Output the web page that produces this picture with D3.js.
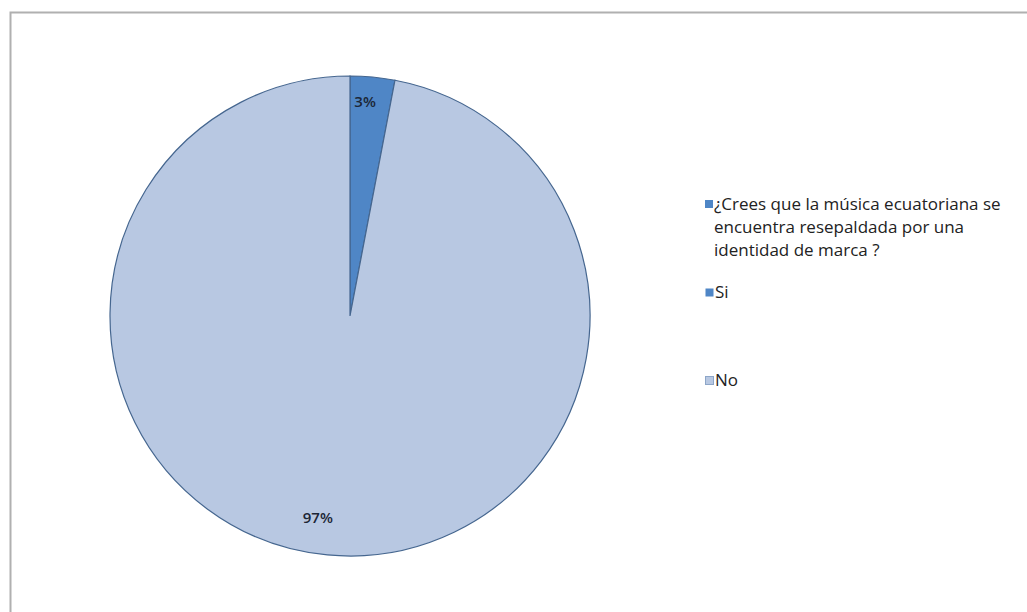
<!DOCTYPE html>
<html>
<head>
<meta charset="utf-8">
<script src="https://cdn.jsdelivr.net/npm/d3@7"></script>
<style>
  html, body { margin: 0; padding: 0; background: #fff; }
  svg { display: block; }
</style>
</head>
<body>
<svg id="chart" width="1027" height="612"></svg>
<script>
// Survey answers (percent)
const categories = ["Si", "No"];
const values = [3, 97];
const legendTitle = ["¿Crees que la música ecuatoriana se", "encuentra resepaldada por una", "identidad de marca ?"];
const colors = ["#4f86c6", "#b8c8e2"];

const svg = d3.select("#chart");
const font = "'Open Sans', Lato, sans-serif";

// chart frame
svg.append("rect")
  .attr("x", 10.5).attr("y", 12.5)
  .attr("width", 1030).attr("height", 620)
  .attr("fill", "#fff")
  .attr("stroke", "#b0b0b0")
  .attr("stroke-width", 2);

const cx = 350, cy = 316, r = 240;
const g = svg.append("g").attr("transform", `translate(${cx},${cy})`);

const data = categories.map((c, i) => ({ cat: c, value: values[i], color: colors[i] }));
const pie = d3.pie().value(d => d.value).sort(null);
const arc = d3.arc().innerRadius(0).outerRadius(r);
const arcs = pie(data);

g.selectAll("path.slice")
  .data(arcs)
  .join("path")
  .attr("class", "slice")
  .attr("d", arc)
  .attr("fill", d => d.data.color)
  .attr("stroke", "#45668f")
  .attr("stroke-width", 1.2);

// percentage labels placed inside each slice, near the rim
const total = d3.sum(values);
const labelRadius = [0.89, 0.85];
const labelShift = [-5, -13];
g.selectAll("text.pct")
  .data(arcs)
  .join("text")
  .attr("class", "pct")
  .attr("transform", (d, i) => {
    const a = (d.startAngle + d.endAngle) / 2;
    const rr = r * labelRadius[i];
    const x = Math.sin(a) * rr + labelShift[i], y = -Math.cos(a) * rr;
    return `translate(${x},${y})`;
  })
  .attr("text-anchor", "middle")
  .attr("dominant-baseline", "middle")
  .attr("font-family", font)
  .attr("font-size", 15)
  .attr("font-weight", 600)
  .attr("fill", "#1c2636")
  .text(d => Math.round(d.data.value / total * 100) + "%");

// legend
const lx = 705;
const legend = svg.append("g")
  .attr("font-family", font)
  .attr("font-size", 17)
  .attr("font-weight", 400)
  .attr("fill", "#222");

legend.append("rect")
  .attr("x", lx).attr("y", 200).attr("width", 8).attr("height", 8)
  .attr("fill", colors[0]);
legend.append("text")
  .attr("x", lx + 9).attr("y", 205)
  .attr("dominant-baseline", "middle")
  .selectAll("tspan")
  .data(legendTitle)
  .join("tspan")
  .attr("x", lx + 9)
  .attr("dy", (d, i) => i === 0 ? 0 : 23)
  .text(d => d);

const itemY = [293, 381];
data.forEach((d, i) => {
  legend.append("rect")
    .attr("x", lx + 0.5).attr("y", itemY[i] - 4.5)
    .attr("width", 8).attr("height", 8)
    .attr("fill", d.color)
    .attr("stroke", i === 1 ? "#8da6c8" : "none")
    .attr("stroke-width", 1);
  legend.append("text")
    .attr("x", lx + 10).attr("y", itemY[i])
    .attr("dominant-baseline", "middle")
    .text(d.cat);
});
</script>
</body>
</html>
